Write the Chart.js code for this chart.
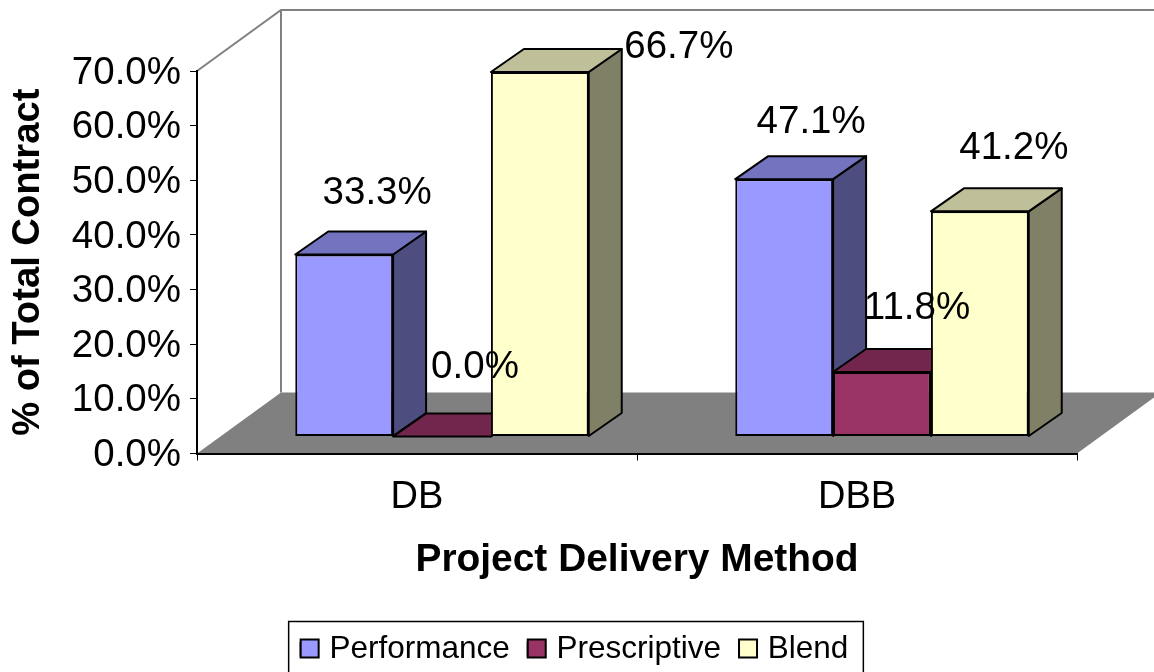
<!DOCTYPE html>
<html>
<head>
<meta charset="utf-8">
<style>html,body{margin:0;padding:0;background:#fff;overflow:hidden}canvas{display:block}</style>
<script src="https://cdn.jsdelivr.net/npm/chart.js@4"></script>
</head>
<body>
<canvas id="c" width="1154" height="672"></canvas>
<script>
const categories = ['DB', 'DBB'];
const performance_ = [33.3, 47.1];
const prescriptive = [0.0, 11.8];
const blend = [66.7, 41.2];
const seriesNames = ['Performance', 'Prescriptive', 'Blend'];
const frontColors = ['#9999FF', '#993366', '#FFFFCC'];
const topColors = ['#7373BF', '#73264D', '#BFBF99'];
const sideColors = ['#4D4D80', '#4D1A33', '#808066'];
// manual label placement, relative to each bar's top centre: [series][category]
const labelOffsets = [[[33, -61], [27, -57]], [[33, -69], [35, -64]], [[139, -25], [34, -63]]];

const FONT = '"Liberation Sans", Arial, sans-serif';
const DEPTH = {x: 84, y: -61};     // wall depth
const BAR_DEPTH = {x: 33, y: -23}; // bar depth
const BAR_SHIFT = {x: 25, y: -17}; // bars stand inside the floor
const LEGEND_H = 59;
const LEGEND_DROP = 3;

function poly(ctx, pts, fill, stroke, lw) {
  ctx.beginPath();
  pts.forEach((p, i) => i ? ctx.lineTo(p[0], p[1]) : ctx.moveTo(p[0], p[1]));
  ctx.closePath();
  if (fill) { ctx.fillStyle = fill; ctx.fill(); }
  if (stroke) { ctx.strokeStyle = stroke; ctx.lineWidth = lw; ctx.lineJoin = 'round'; ctx.stroke(); }
}

const threeD = {
  id: 'threeD',
  afterLayout(chart) {
    const lg = chart.legend;
    lg.top += LEGEND_DROP;
    lg.bottom += LEGEND_DROP;
    lg.left = 0;
    lg.right = 1149;
    lg.width = 1149;
    lg.adjustHitBoxes();
  },
  beforeDraw(chart) {
    const {ctx, chartArea: a} = chart;
    ctx.save();
    const d = DEPTH;
    poly(ctx, [[a.left, a.bottom], [a.left + d.x, a.bottom + d.y], [a.right + d.x, a.bottom + d.y], [a.right, a.bottom]], '#808080');
    ctx.strokeStyle = '#808080';
    ctx.lineWidth = 2;
    ctx.beginPath();
    ctx.moveTo(a.left, a.top);
    ctx.lineTo(a.left + d.x, a.top + d.y);
    ctx.lineTo(a.right + d.x, a.top + d.y);
    ctx.moveTo(a.left + d.x, a.top + d.y);
    ctx.lineTo(a.left + d.x, a.bottom + d.y);
    ctx.stroke();
    ctx.restore();
  },
  beforeDatasetsDraw(chart) {
    const {ctx} = chart;
    const d = BAR_DEPTH;
    ctx.save();
    ctx.translate(BAR_SHIFT.x, BAR_SHIFT.y);
    chart.data.datasets.forEach((ds, si) => {
      chart.getDatasetMeta(si).data.forEach(el => {
        const w = el.width / 2, L = el.x - w, R = el.x + w, T = el.y, B = el.base;
        poly(ctx, [[R, T], [R + d.x, T + d.y], [R + d.x, B + d.y], [R, B]], sideColors[si], '#000', 2);
        poly(ctx, [[L, T], [L + d.x, T + d.y], [R + d.x, T + d.y], [R, T]], topColors[si], '#000', 2);
        el.draw(ctx);
      });
    });
    ctx.fillStyle = '#000';
    ctx.font = '38.5px ' + FONT;
    ctx.textAlign = 'center';
    ctx.textBaseline = 'middle';
    chart.data.datasets.forEach((ds, si) => {
      chart.getDatasetMeta(si).data.forEach((el, i) => {
        const o = labelOffsets[si][i];
        ctx.fillText(ds.data[i].toFixed(1) + '%', el.x + o[0], el.y + o[1]);
      });
    });
    ctx.restore();
    return false;
  },
  afterDraw(chart) {
    const hb = chart.legend.legendHitBoxes;
    if (!hb.length) return;
    const {ctx} = chart;
    const top = chart.legend.top;
    ctx.save();
    // wider legend swatches, on the library's own legend items
    hb.forEach((h, i) => {
      ctx.fillStyle = frontColors[i];
      ctx.strokeStyle = '#000';
      ctx.lineWidth = 2;
      ctx.fillRect(h.left, top + 24, 18, 18);
      ctx.strokeRect(h.left, top + 24, 18, 18);
    });
    const L = hb[0].left - 12, R = hb[hb.length - 1].left + hb[hb.length - 1].width + 15;
    ctx.lineWidth = 1.5;
    ctx.strokeRect(L, top + 6, R - L, 80);
    ctx.restore();
  }
};

new Chart(document.getElementById('c'), {
  type: 'bar',
  data: {
    labels: categories,
    datasets: [performance_, prescriptive, blend].map((values, i) => ({
      label: seriesNames[i],
      data: values,
      backgroundColor: frontColors[i],
      borderColor: '#000',
      borderWidth: 2,
      borderSkipped: false,
      categoryPercentage: 0.667,
      barPercentage: 1
    }))
  },
  plugins: [threeD],
  options: {
    responsive: false,
    animation: false,
    devicePixelRatio: 1,
    layout: {padding: {left: 0, top: 71, right: 77, bottom: 0}},
    plugins: {
      tooltip: {enabled: false},
      title: {display: false},
      legend: {
        position: 'bottom',
        labels: {
          color: '#000',
          font: {family: FONT, size: 31.5},
          boxWidth: 13,
          boxHeight: 13,
          padding: 18
        }
      }
    },
    scales: {
      x: {
        grid: {drawOnChartArea: false, color: '#000', tickLength: 7, offset: true},
        border: {color: '#000', width: 2},
        ticks: {color: '#000', font: {family: FONT, size: 38}, padding: 14, maxRotation: 0},
        title: {display: true, text: 'Project Delivery Method', color: '#000',
                font: {family: FONT, size: 38.9, weight: 'bold'}, padding: {top: 10, bottom: 29}},
        afterFit(s) { s.height = 672 - 454 - LEGEND_H; }
      },
      y: {
        min: 0, max: 70,
        grid: {drawOnChartArea: false, color: '#000', tickLength: 7},
        border: {color: '#000', width: 2},
        ticks: {color: '#000', stepSize: 10, font: {family: FONT, size: 38.5}, padding: 9, labelOffset: 2,
                callback: v => v.toFixed(1) + '%'},
        title: {display: true, text: '% of Total Contract', color: '#000',
                font: {family: FONT, size: 38.2, weight: 'bold'}, padding: {top: 6, bottom: 0}},
        afterFit(s) { s.width = 197; }
      }
    }
  }
});
</script>
</body>
</html>
